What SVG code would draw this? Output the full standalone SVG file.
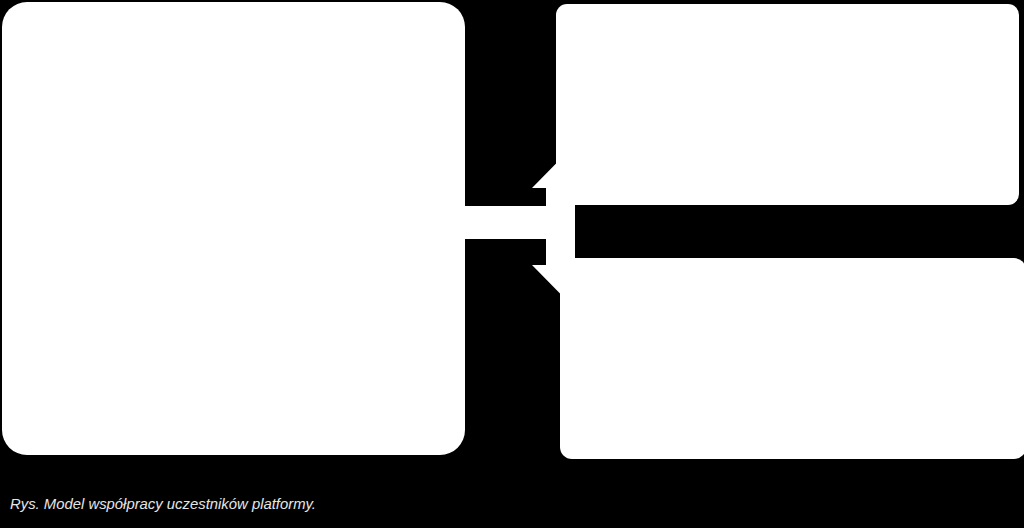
<svg xmlns="http://www.w3.org/2000/svg" width="1024" height="528" viewBox="0 0 1024 528">
  <style>
    .box { fill: #ffffff; }
    .conn { fill: #ffffff; }
    .caption { font-family: "Liberation Sans", "Open Sans", sans-serif; font-style: italic; font-size: 14px; fill: #e6e6e6; }
  </style>
  <rect x="0" y="0" width="1024" height="528" fill="#000000"/>
  <g id="connectors">
    <path class="conn" d="M464,206 H546 V188 H532 L560.5,159 L589,188 H575 V265 H589 L560.5,294 L532,265 H546 V239 H464 Z"/>
  </g>
  <g id="node-left">
    <rect class="box" x="2" y="2" width="463" height="453" rx="25" ry="25"/>
  </g>
  <g id="node-top-right">
    <rect class="box" x="556" y="4" width="463" height="201" rx="11" ry="11"/>
  </g>
  <g id="node-bottom-right">
    <rect class="box" x="560" y="258" width="466" height="201" rx="12" ry="12"/>
  </g>
  <text class="caption" x="10" y="509" textLength="306" lengthAdjust="spacingAndGlyphs">Rys. Model współpracy uczestników platformy.</text>
</svg>
